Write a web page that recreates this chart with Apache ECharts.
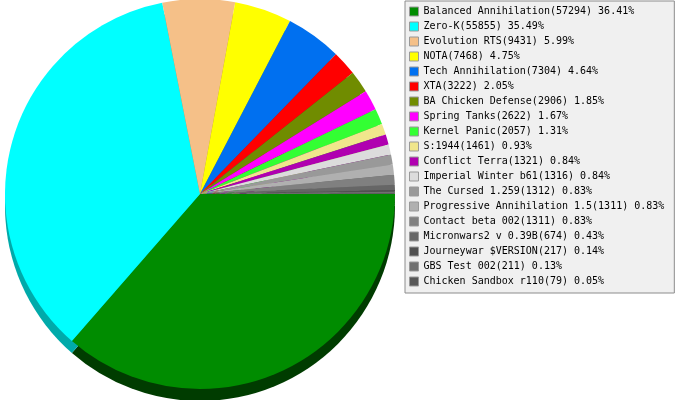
<!DOCTYPE html>
<html>
<head>
<meta charset="utf-8">
<script src="https://cdn.jsdelivr.net/npm/echarts@6/dist/echarts.min.js"></script>
<style>
html,body{margin:0;padding:0;background:#fff;}
#main{width:677px;height:400px;}
</style>
</head>
<body>
<div id="main"></div>
<script>
const names = ["Balanced Annihilation","Zero-K","Evolution RTS","NOTA","Tech Annihilation","XTA","BA Chicken Defense","Spring Tanks","Kernel Panic","S:1944","Conflict Terra","Imperial Winter b61","The Cursed 1.259","Progressive Annihilation 1.5","Contact beta 002","Micronwars2 v 0.39B","Journeywar $VERSION","GBS Test 002","Chicken Sandbox r110"];
const values = [57294,55855,9431,7468,7304,3222,2906,2622,2057,1461,1321,1316,1312,1311,1311,674,217,211,79];
const colors = ["#008c00","#00ffff","#f5c088","#ffff00","#0070f0","#ff0000","#708c00","#ff00ff","#33ff33","#f0e68c","#b000b0","#dcdcdc","#999999","#b0b0b0","#808080","#666666","#505050","#707070","#585858"];
const sideColors = ["#003c00","#00aaaa","#a88050","#aaaa00","#004ca0","#aa0000","#4a5c00","#aa00aa","#22aa22","#a09a5c","#760076","#939393","#666666","#767676","#555555","#444444","#353535","#4b4b4b","#3b3b3b"];

const total = values.reduce((a,b)=>a+b,0);
const valueByName = {};
names.forEach((n,i)=>{ valueByName[n] = values[i]; });

const chart = echarts.init(document.getElementById('main'), null, {renderer:'canvas'});
chart.setOption({
  animation: false,
  backgroundColor: '#ffffff',
  legend: {
    orient: 'vertical',
    left: 405,
    top: 1,
    data: names,
    backgroundColor: '#f0f0f0',
    borderColor: '#8c8c8c',
    borderWidth: 1,
    borderRadius: 0,
    padding: [3, 10, 4, 4],
    itemGap: 0,
    itemWidth: 9,
    itemHeight: 9,
    icon: 'rect',
    selectedMode: false,
    itemStyle: { borderColor: '#999999', borderWidth: 1 },
    textStyle: { fontFamily: 'DejaVu Sans Mono', fontSize: 10, color: '#000', lineHeight: 15 },
    formatter: function (n) {
      const v = valueByName[n];
      return n + '(' + v + ') ' + (v / total * 100).toFixed(2) + '%';
    }
  },
  series: [
    {
      type: 'pie',
      name: 'side',
      z: 1,
      silent: true,
      center: [200, 206],
      radius: 195,
      startAngle: 0,
      clockwise: true,
      label: { show: false },
      labelLine: { show: false },
      emphasis: { disabled: true },
      itemStyle: { borderWidth: 0 },
      data: values.map((v,i)=>({ name: 'side-' + i, value: v, itemStyle: { color: sideColors[i] } }))
    },
    {
      type: 'pie',
      name: 'top',
      z: 2,
      silent: true,
      center: [200, 194],
      radius: 195,
      startAngle: 0,
      clockwise: true,
      label: { show: false },
      labelLine: { show: false },
      emphasis: { disabled: true },
      itemStyle: { borderWidth: 0 },
      data: values.map((v,i)=>({ name: names[i], value: v, itemStyle: { color: colors[i] } }))
    }
  ]
});
</script>
</body>
</html>
